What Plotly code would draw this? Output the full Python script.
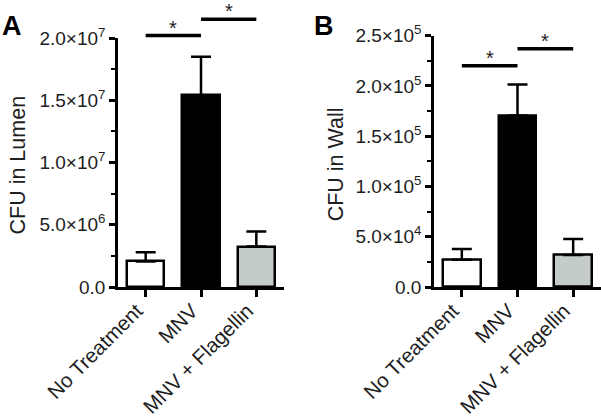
import plotly.graph_objects as go

categories = ["No Treatment", "MNV", "MNV + Flagellin"]
lumen_means = [2.05e6, 1.54e7, 3.25e6]
lumen_err = [0.75e6, 3.1e6, 1.2e6]
wall_means = [2.72e4, 1.705e5, 3.18e4]
wall_err = [1.06e4, 3.1e4, 1.6e4]
bar_colors = ["#ffffff", "#000000", "#c3ccc9"]

lumen_ticks = [0, 5e6, 1e7, 1.5e7, 2e7]
lumen_ticktext = ["0.0", "5.0×10<sup>6</sup>", "1.0×10<sup>7</sup>", "1.5×10<sup>7</sup>", "2.0×10<sup>7</sup>"]
wall_ticks = [0, 5e4, 1e5, 1.5e5, 2e5, 2.5e5]
wall_ticktext = ["0.0", "5.0×10<sup>4</sup>", "1.0×10<sup>5</sup>", "1.5×10<sup>5</sup>", "2.0×10<sup>5</sup>", "2.5×10<sup>5</sup>"]
y_titles = ["CFU in Lumen", "CFU in Wall"]

# significance brackets: (from index, to index, height in data units)
lumen_sig = [(0, 1, 2.02e7), (1, 2, 2.15e7)]
wall_sig = [(0, 1, 2.2e5), (1, 2, 2.37e5)]

FONT = "Liberation Sans, Arial, sans-serif"
TXT = "#1e1e1e"

fig = go.Figure()
for means, errs, xa, ya in [(lumen_means, lumen_err, "x", "y"), (wall_means, wall_err, "x2", "y2")]:
    fig.add_trace(go.Bar(
        x=[0, 1, 2], y=means, width=0.68,
        marker=dict(color=bar_colors, line=dict(color="black", width=2.5)),
        error_y=dict(type="data", symmetric=False, array=errs, arrayminus=[0, 0, 0],
                     color="black", thickness=2.5, width=10),
        xaxis=xa, yaxis=ya, showlegend=False,
    ))

common_x = dict(range=[-0.5, 2.5], tickvals=[0, 1, 2], ticktext=categories, tickangle=-45,
                showline=True, linecolor="black", linewidth=2.5, ticks="outside", ticklen=7,
                tickwidth=2.5, tickcolor="black", showgrid=False, zeroline=False,
                ticklabelshift=-9, ticklabelstandoff=-6,
                tickfont=dict(family=FONT, size=20.5, color=TXT), automargin=False)
common_y = dict(showline=True, linecolor="black", linewidth=2.5, ticks="outside", ticklen=6,
                tickwidth=2.5, tickcolor="black", showgrid=False, zeroline=False,
                tickfont=dict(family=FONT, size=19, color=TXT), automargin=False,
                minor=dict(ticks="outside", ticklen=4, tickwidth=2, tickcolor="black"))

ydom_a = [133 / 420, 382 / 420]
ydom_b = [133 / 420, 384.3 / 420]

fig.update_layout(
    width=601, height=420, margin=dict(l=0, r=0, t=0, b=0),
    paper_bgcolor="white", plot_bgcolor="white", bargap=0,
    xaxis=dict(domain=[118 / 601, 284 / 601], anchor="y", **common_x),
    yaxis=dict(domain=ydom_a, anchor="x", range=[0, 2e7], tickvals=lumen_ticks,
               ticktext=lumen_ticktext, **common_y),
    xaxis2=dict(domain=[434 / 601, 1.0], anchor="y2", **common_x),
    yaxis2=dict(domain=ydom_b, anchor="x2", range=[0, 2.5e5], tickvals=wall_ticks,
                ticktext=wall_ticktext, **common_y),
)
fig.layout.yaxis.minor.dtick = 2.5e6
fig.layout.yaxis2.minor.dtick = 2.5e4

for title, xpos, dom in [(y_titles[0], 18 / 601, ydom_a), (y_titles[1], 336 / 601, ydom_b)]:
    fig.add_annotation(xref="paper", yref="paper", x=xpos, y=(dom[0] + dom[1]) / 2, text=title,
                       textangle=-90, showarrow=False, xanchor="center", yanchor="middle", yshift=-3,
                       font=dict(family=FONT, size=21.5, color=TXT))

for sigs, ymax, xa, yd in [(lumen_sig, 2e7, "x", "y domain"), (wall_sig, 2.5e5, "x2", "y2 domain")]:
    for a, b, h in sigs:
        fig.add_shape(type="line", xref=xa, yref=yd, x0=a, x1=b, y0=h / ymax, y1=h / ymax,
                      line=dict(color="black", width=3.5))
        fig.add_annotation(xref=xa, yref=yd, x=(a + b) / 2, y=h / ymax, text="*", showarrow=False,
                           yanchor="bottom", yshift=-5, font=dict(family=FONT, size=20, color=TXT))

fig.add_annotation(xref="paper", yref="paper", x=12 / 601, y=1 - 26 / 420, text="<b>A</b>",
                   showarrow=False, xanchor="center", yanchor="middle",
                   font=dict(family=FONT, size=27, color="black"))
fig.add_annotation(xref="paper", yref="paper", x=324 / 601, y=1 - 26 / 420, text="<b>B</b>",
                   showarrow=False, xanchor="center", yanchor="middle",
                   font=dict(family=FONT, size=27, color="black"))

fig.write_html("out.html", config={"displayModeBar": False},
               post_script="document.body.style.margin='0px';")
